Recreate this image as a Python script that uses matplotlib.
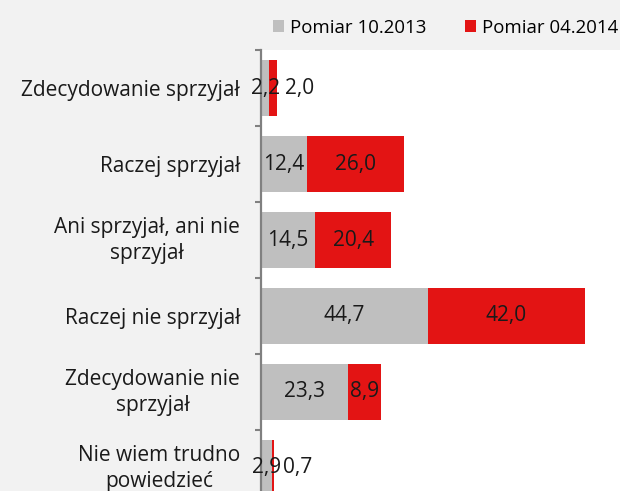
import numpy as np
import matplotlib.pyplot as plt
from matplotlib.transforms import ScaledTranslation

categories = ["Zdecydowanie sprzyjał", "Raczej sprzyjał", "Ani sprzyjał, ani nie\nsprzyjał",
              "Raczej nie sprzyjał", "Zdecydowanie nie\nsprzyjał", "Nie wiem trudno\npowiedzieć"]
pomiar_2013 = [2.2, 12.4, 14.5, 44.7, 23.3, 2.9]
pomiar_2014 = [2.0, 26.0, 20.4, 42.0, 8.9, 0.7]
labels_2013 = ["2,2", "12,4", "14,5", "44,7", "23,3", "2,9"]
labels_2014 = ["2,0", "26,0", "20,4", "42,0", "8,9", "0,7"]

gray = "#bfbfbf"
red = "#e31414"
fs = 15

plt.rcParams['font.family'] = ['Open Sans', 'DejaVu Sans']

fig = plt.figure(figsize=(6.2, 4.91), dpi=100, facecolor="#f2f2f2")
ax = fig.add_axes([261 / 620, -15 / 491, 359 / 620, 456 / 491])
ax.set_facecolor("white")

y = np.arange(len(categories))
h = 0.74
ax.barh(y, pomiar_2013, height=h, color=gray, label="Pomiar 10.2013")
ax.barh(y, pomiar_2014, height=h, left=pomiar_2013, color=red, label="Pomiar 04.2014")

for i in range(len(categories)):
    ax.text(pomiar_2013[i] / 2, y[i], labels_2013[i], ha="center", va="center", fontsize=fs, color="#1a1a1a")
    if pomiar_2014[i] < 5:
        ax.annotate(labels_2014[i], (pomiar_2013[i] + pomiar_2014[i], y[i]), xytext=(6, 0),
                    textcoords="offset points", ha="left", va="center", fontsize=fs, color="#1a1a1a")
    else:
        ax.text(pomiar_2013[i] + pomiar_2014[i] / 2, y[i], labels_2014[i], ha="center", va="center",
                fontsize=fs, color="#1a1a1a")

ax.set_xlim(0, 96.1)
ax.set_ylim(len(categories) - 0.5, -0.5)

ax.set_yticks(y)
ax.set_yticklabels(categories, fontsize=fs, color="#1a1a1a", multialignment="center", linespacing=1.3)
ax.tick_params(axis="y", which="major", length=0, pad=15)
ax.set_yticks(np.arange(len(categories) + 1) - 0.5, minor=True)
ax.tick_params(axis="y", which="minor", length=4.5, width=1.5, color="#808080")
ax.set_xticks([])
for s in ["top", "right", "bottom"]:
    ax.spines[s].set_visible(False)
ax.spines["left"].set_color("#808080")
ax.spines["left"].set_linewidth(1.6)

# two-line labels sit a little higher in the original
for lbl in ax.get_yticklabels():
    if "\n" in lbl.get_text():
        lbl.set_transform(lbl.get_transform() + ScaledTranslation(0, 3 / 72, fig.dpi_scale_trans))

fig.legend(loc="upper left", bbox_to_anchor=(256 / 620, 1 - 2 / 491), ncol=2, frameon=False,
           fontsize=13.4, handlelength=0.6, handleheight=0.6, handletextpad=0.3, columnspacing=2.1)

fig.savefig("out.png", dpi=100, facecolor=fig.get_facecolor())
